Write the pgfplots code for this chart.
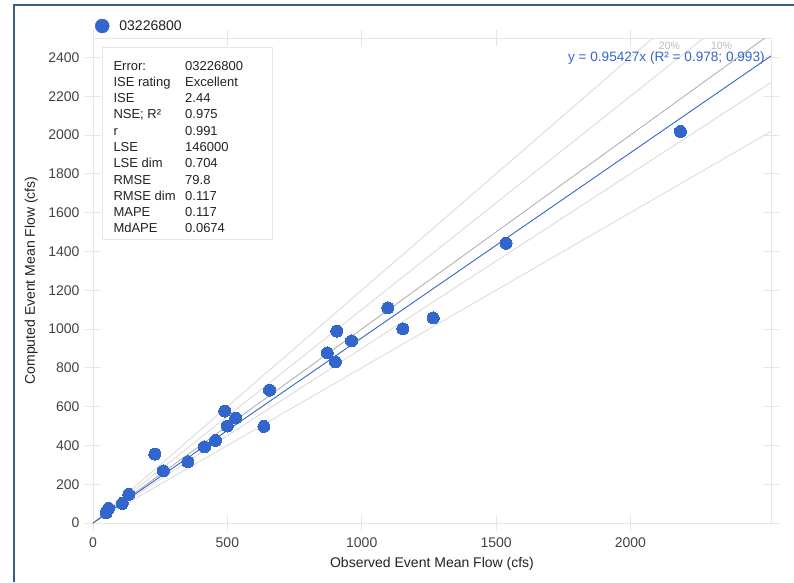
\documentclass[border=0pt]{standalone}
\usepackage{fontspec}
\setmainfont{Liberation Sans}
\usepackage{pgfplots}
\pgfplotsset{compat=1.18}
\definecolor{gblue}{HTML}{3366CC}
\definecolor{frameblue}{HTML}{3B5B84}
\definecolor{lightref}{HTML}{D9D9D9}
\definecolor{midref}{HTML}{ABABAB}
\definecolor{gridc}{HTML}{E6E6E6}
\definecolor{tickc}{HTML}{444444}
\definecolor{titlec}{HTML}{222222}
\definecolor{pctc}{HTML}{BBBBBB}
\begin{document}
\begin{tikzpicture}[x=1pt,y=1pt]
\useasboundingbox (0,0) rectangle (794,582);
\fill[white] (0,0) rectangle (794,582);
\draw[frameblue, line width=2.6pt] (14,0) -- (14,577) -- (794,577);
\begin{axis}[
  at={(93pt,59pt)}, anchor=south west,
  scale only axis, width=678pt, height=485pt,
  xmin=0, xmax=2523, ymin=0, ymax=2500,
  xtick={0,500,1000,1500,2000},
  ytick={0,200,400,600,800,1000,1200,1400,1600,1800,2000,2200,2400},
  axis line style={draw=gridc},
  tick align=center, major tick length=16pt,
  tick style={gridc, line width=0.8pt},
  scaled ticks=false,
  /pgf/number format/1000 sep={},
  /pgf/number format/assume math mode=true,
  ticklabel style={font=\fontsize{14}{16}\selectfont, text=tickc},
  xticklabel style={yshift=-3pt},
  yticklabel style={xshift=-2pt},
  xlabel={Observed Event Mean Flow (cfs)},
  ylabel={Computed Event Mean Flow (cfs)},
  label style={font=\fontsize{14}{16}\selectfont, text=titlec},
  xlabel style={at={([yshift=-44pt]axis description cs:0.5,0)}, anchor=base},
  ylabel style={at={([xshift=-58pt]axis description cs:0,0.5)}, anchor=base, rotate=0},
  legend style={at={([xshift=2pt, yshift=12pt]axis description cs:0,1)}, anchor=west,
    draw=none, fill=none, inner sep=0pt, outer sep=0pt,
    font=\fontsize{14}{16}\selectfont, text=titlec},
  legend cell align=left,
  legend image code/.code={\fill[gblue] (6pt,0pt) circle (7pt);},
]
% reference lines
\addplot[lightref, line width=0.8pt, forget plot] coordinates {(0,0) (2523,3027.6)};
\addplot[lightref, line width=0.8pt, forget plot] coordinates {(0,0) (2523,2775.3)};
\addplot[midref, line width=0.8pt, forget plot] coordinates {(0,0) (2523,2523)};
\addplot[lightref, line width=0.8pt, forget plot] coordinates {(0,0) (2523,2270.7)};
\addplot[lightref, line width=0.8pt, forget plot] coordinates {(0,0) (2523,2018.4)};
% fit line
\addplot[gblue, line width=0.9pt, forget plot] coordinates {(0,0) (2523,2407.6)};
% data
\addplot[only marks, mark=*, mark size=6pt, mark options={fill=gblue, draw=gblue, line width=0pt}] coordinates {
(49,53) (58,76) (109,101) (133,148) (230,355) (262,269) (353,316) (415,393)
(456,426) (490,577) (500,500) (531,541) (636,498) (657,685) (872,877) (902,831)
(907,989) (962,939) (1097,1109) (1153,1001) (1266,1057) (1537,1442) (2186,2019)
};
\addlegendentry{\hspace{8pt}03226800}
\node[pctc, font=\fontsize{10.5}{12}\selectfont, anchor=base] at (axis cs:2145,2440) {20\%};
\node[pctc, font=\fontsize{10.5}{12}\selectfont, anchor=base] at (axis cs:2339,2440) {10\%};
\node[gblue, font=\fontsize{13.6}{15}\selectfont, anchor=base east, inner sep=0pt] at (axis cs:2500,2380) {y = 0.95427x (R² = 0.978; 0.993)};
\end{axis}
% statistics box
\draw[gridc, line width=0.8pt, fill=white] (102,343) rectangle (272,535);
\node[anchor=north west, inner sep=0pt, text=titlec] at (113.3,523.4) {\fontsize{13}{16.27}\selectfont
\begin{tabular}{@{}p{71.7pt}@{}l@{}}
Error: & 03226800\\
ISE rating & Excellent\\
ISE & 2.44\\
NSE; R² & 0.975\\
r & 0.991\\
LSE & 146000\\
LSE dim & 0.704\\
RMSE & 79.8\\
RMSE dim & 0.117\\
MAPE & 0.117\\
MdAPE & 0.0674
\end{tabular}};
\end{tikzpicture}
\end{document}
